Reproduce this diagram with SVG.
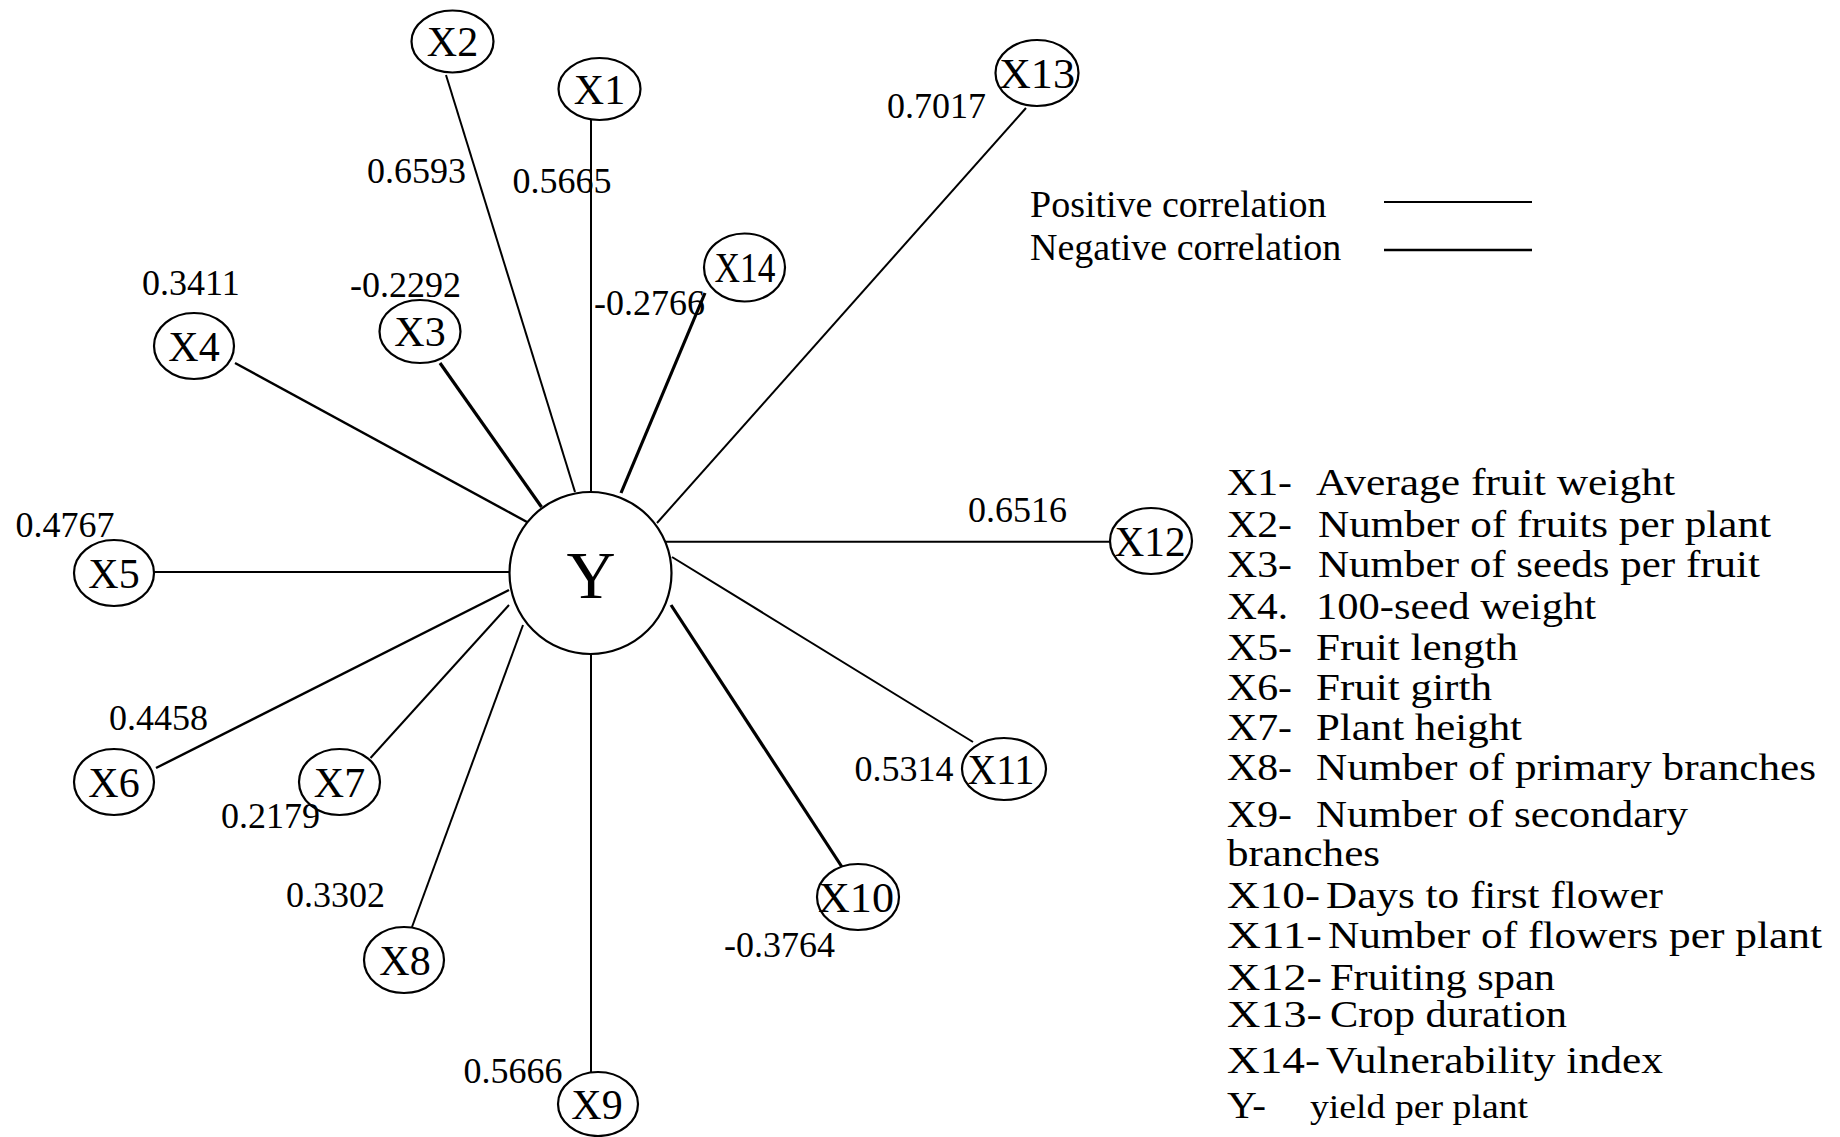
<svg xmlns="http://www.w3.org/2000/svg" width="1840" height="1137" viewBox="0 0 1840 1137">
<style>
text{font-family:"Liberation Serif","Times New Roman",serif;fill:#000}
.node ellipse,.node circle{fill:#fff;stroke:#000;stroke-width:2.2}
.nl{font-size:42px;text-anchor:middle}
.val{font-size:36px}
.leg{font-size:38px}
.pos{stroke:#000;stroke-width:2;fill:none}
.neg{stroke:#000;stroke-width:3.2;fill:none}
</style>
<rect width="1840" height="1137" fill="#fff"/>
<g id="connectors">
<line class="pos" x1="591" y1="120" x2="591" y2="492"/>
<line class="pos" x1="446" y1="75" x2="575" y2="492"/>
<line class="neg" x1="440" y1="363" x2="541.5" y2="507"/>
<line class="pos" x1="235" y1="363" x2="527" y2="522" style="stroke-width:2.4"/>
<line class="pos" x1="154" y1="572" x2="509" y2="572"/>
<line class="pos" x1="156" y1="768" x2="509" y2="590" style="stroke-width:2.4"/>
<line class="pos" x1="370.5" y1="758" x2="509" y2="605"/>
<line class="pos" x1="412" y1="927" x2="523" y2="625"/>
<line class="pos" x1="591" y1="654" x2="591" y2="1072"/>
<line class="neg" x1="671" y1="605" x2="842" y2="867"/>
<line class="pos" x1="672" y1="557" x2="973" y2="742"/>
<line class="pos" x1="655" y1="541.7" x2="1110" y2="541.7"/>
<line class="pos" x1="657" y1="523" x2="1026" y2="108"/>
<line class="neg" x1="621" y1="493" x2="705" y2="293"/>
</g>
<g id="Y" class="node"><circle cx="590.5" cy="573" r="81"/><text x="591" y="598" style="font-size:68px;text-anchor:middle">Y</text></g>
<g id="X1" class="node"><ellipse cx="599.5" cy="89" rx="41" ry="31"/><text class="nl" x="599.5" y="104">X1</text></g>
<g id="X2" class="node"><ellipse cx="452.5" cy="41.5" rx="41" ry="31"/><text class="nl" x="452.5" y="56">X2</text></g>
<g id="X3" class="node"><ellipse cx="420" cy="331.5" rx="40.5" ry="31.5"/><text class="nl" x="420" y="346">X3</text></g>
<g id="X4" class="node"><ellipse cx="194" cy="346" rx="40" ry="33"/><text class="nl" x="194" y="361">X4</text></g>
<g id="X5" class="node"><ellipse cx="114" cy="573" rx="40" ry="33"/><text class="nl" x="114" y="588">X5</text></g>
<g id="X6" class="node"><ellipse cx="114" cy="782" rx="40" ry="33"/><text class="nl" x="114" y="797">X6</text></g>
<g id="X7" class="node"><ellipse cx="339.5" cy="782" rx="40.5" ry="33"/><text class="nl" x="339.5" y="797">X7</text></g>
<g id="X8" class="node"><ellipse cx="404" cy="960" rx="40" ry="33"/><text class="nl" x="405" y="975">X8</text></g>
<g id="X9" class="node"><ellipse cx="598" cy="1104" rx="40" ry="32"/><text class="nl" x="597" y="1119">X9</text></g>
<g id="X10" class="node"><ellipse cx="858" cy="897" rx="41" ry="33"/><text class="nl" x="856" y="912" textLength="76" lengthAdjust="spacingAndGlyphs">X10</text></g>
<g id="X11" class="node"><ellipse cx="1004" cy="769" rx="42" ry="31"/><text class="nl" x="1001" y="784" textLength="67" lengthAdjust="spacingAndGlyphs">X11</text></g>
<g id="X12" class="node"><ellipse cx="1151" cy="541" rx="41" ry="33"/><text class="nl" x="1150" y="556" textLength="71" lengthAdjust="spacingAndGlyphs">X12</text></g>
<g id="X13" class="node"><ellipse cx="1037" cy="73" rx="41.5" ry="33"/><text class="nl" x="1037" y="88" textLength="76" lengthAdjust="spacingAndGlyphs">X13</text></g>
<g id="X14" class="node"><ellipse cx="744.5" cy="267.5" rx="40.5" ry="34"/><text class="nl" x="745" y="282" textLength="61" lengthAdjust="spacingAndGlyphs">X14</text></g>
<g id="values">
<text class="val" x="512.5" y="193">0.5665</text>
<text class="val" x="367" y="183">0.6593</text>
<text class="val" x="350" y="297">-0.2292</text>
<text class="val" x="142" y="295">0.3411</text>
<text class="val" x="15.6" y="537">0.4767</text>
<text class="val" x="109" y="730">0.4458</text>
<text class="val" x="221" y="828">0.2179</text>
<text class="val" x="286" y="907">0.3302</text>
<text class="val" x="463.6" y="1083">0.5666</text>
<text class="val" x="724" y="957">-0.3764</text>
<text class="val" x="854.5" y="781">0.5314</text>
<text class="val" x="968" y="522">0.6516</text>
<text class="val" x="887" y="118">0.7017</text>
<text class="val" x="594" y="315">-0.2766</text>
</g>
<g id="legend-lines">
<text class="leg" x="1030" y="217">Positive correlation</text>
<text class="leg" x="1030" y="260">Negative correlation</text>
<line class="pos" x1="1384" y1="202" x2="1532" y2="202" style="stroke-width:1.8"/>
<line class="neg" x1="1384" y1="250" x2="1532" y2="250" style="stroke-width:2.6"/>
</g>
<g id="legend-key">
<text class="leg" x="1227" y="495" textLength="65" lengthAdjust="spacingAndGlyphs">X1-</text>
<text class="leg" x="1316" y="495" textLength="359" lengthAdjust="spacingAndGlyphs">Average fruit weight</text>
<text class="leg" x="1227" y="537" textLength="65" lengthAdjust="spacingAndGlyphs">X2-</text>
<text class="leg" x="1318" y="537" textLength="453" lengthAdjust="spacingAndGlyphs">Number of fruits per plant</text>
<text class="leg" x="1227" y="577" textLength="65" lengthAdjust="spacingAndGlyphs">X3-</text>
<text class="leg" x="1318" y="577" textLength="442" lengthAdjust="spacingAndGlyphs">Number of seeds per fruit</text>
<text class="leg" x="1227" y="619" textLength="61" lengthAdjust="spacingAndGlyphs">X4.</text>
<text class="leg" x="1316" y="619" textLength="280" lengthAdjust="spacingAndGlyphs">100-seed weight</text>
<text class="leg" x="1227" y="660" textLength="65" lengthAdjust="spacingAndGlyphs">X5-</text>
<text class="leg" x="1316" y="660" textLength="202" lengthAdjust="spacingAndGlyphs">Fruit length</text>
<text class="leg" x="1227" y="700" textLength="65" lengthAdjust="spacingAndGlyphs">X6-</text>
<text class="leg" x="1316" y="700" textLength="176" lengthAdjust="spacingAndGlyphs">Fruit girth</text>
<text class="leg" x="1227" y="740" textLength="65" lengthAdjust="spacingAndGlyphs">X7-</text>
<text class="leg" x="1316" y="740" textLength="206" lengthAdjust="spacingAndGlyphs">Plant height</text>
<text class="leg" x="1227" y="780" textLength="65" lengthAdjust="spacingAndGlyphs">X8-</text>
<text class="leg" x="1316" y="780" textLength="500" lengthAdjust="spacingAndGlyphs">Number of primary branches</text>
<text class="leg" x="1227" y="827" textLength="65" lengthAdjust="spacingAndGlyphs">X9-</text>
<text class="leg" x="1316" y="827" textLength="372" lengthAdjust="spacingAndGlyphs">Number of secondary</text>
<text class="leg" x="1227" y="866" textLength="153" lengthAdjust="spacingAndGlyphs">branches</text>
<text class="leg" x="1227" y="908" textLength="93" lengthAdjust="spacingAndGlyphs">X10-</text>
<text class="leg" x="1326" y="908" textLength="337" lengthAdjust="spacingAndGlyphs">Days to first flower</text>
<text class="leg" x="1227" y="948" textLength="95" lengthAdjust="spacingAndGlyphs">X11-</text>
<text class="leg" x="1328" y="948" textLength="494" lengthAdjust="spacingAndGlyphs">Number of flowers per plant</text>
<text class="leg" x="1227" y="990" textLength="95" lengthAdjust="spacingAndGlyphs">X12-</text>
<text class="leg" x="1330" y="990" textLength="225" lengthAdjust="spacingAndGlyphs">Fruiting span</text>
<text class="leg" x="1227" y="1027" textLength="95" lengthAdjust="spacingAndGlyphs">X13-</text>
<text class="leg" x="1330" y="1027" textLength="237" lengthAdjust="spacingAndGlyphs">Crop duration</text>
<text class="leg" x="1227" y="1073" textLength="93" lengthAdjust="spacingAndGlyphs">X14-</text>
<text class="leg" x="1326" y="1073" textLength="337" lengthAdjust="spacingAndGlyphs">Vulnerability index</text>
<text class="leg" x="1227" y="1118" textLength="39" lengthAdjust="spacingAndGlyphs">Y-</text>
<text x="1310" y="1118" style="font-size:33px" textLength="218" lengthAdjust="spacingAndGlyphs">yield per plant</text>
</g>
</svg>
